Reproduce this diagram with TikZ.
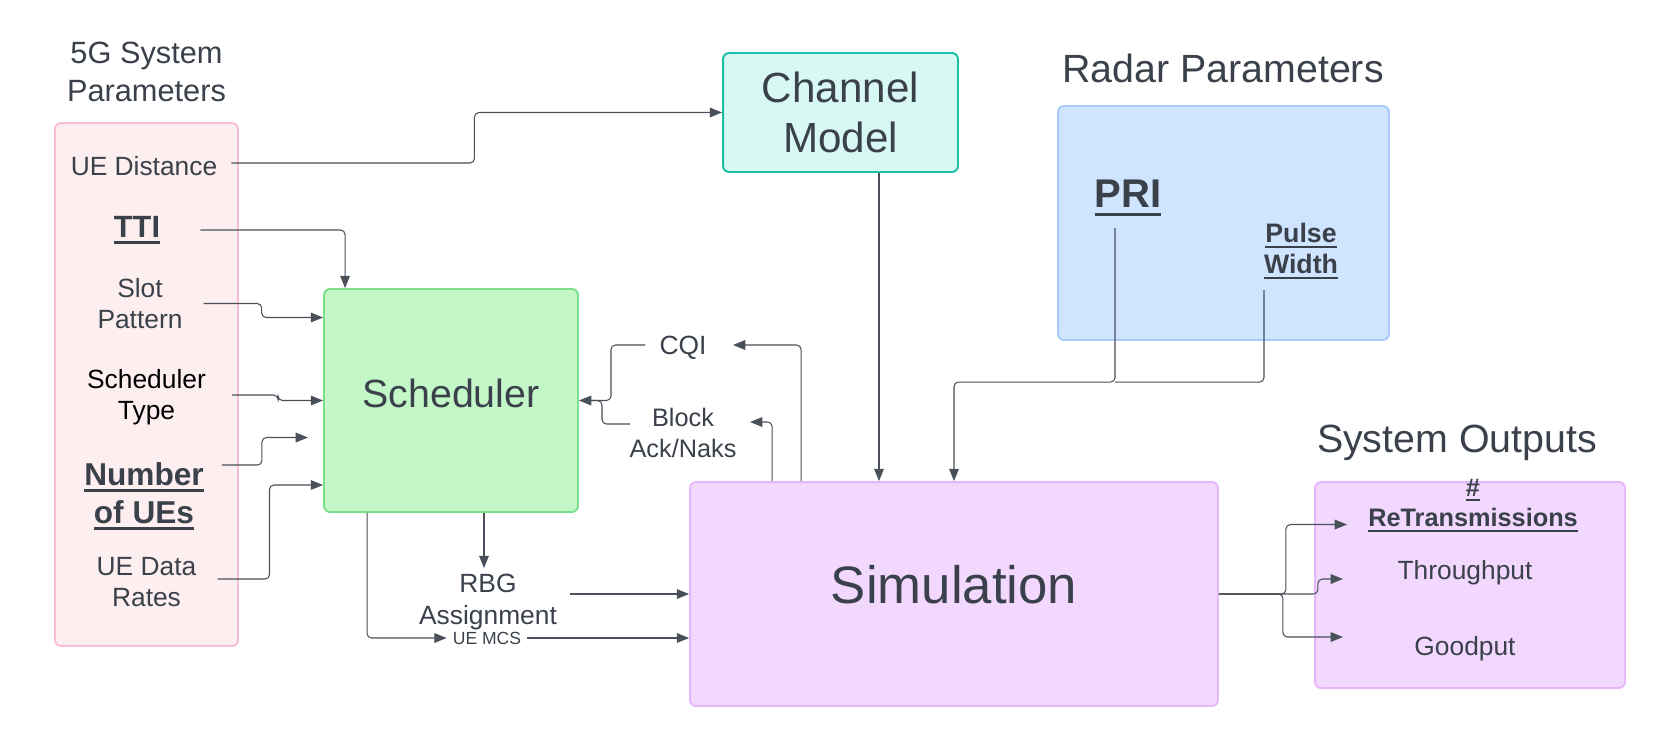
\documentclass[tikz,border=0pt]{standalone}
\usepackage{fontspec}
\setmainfont{Liberation Sans}
\usetikzlibrary{arrows.meta,calc}
\definecolor{ink}{HTML}{3A414A}
\definecolor{wire}{HTML}{4A5059}
\definecolor{pinkfill}{HTML}{FDEEF0}
\definecolor{pinkline}{HTML}{F9BCD6}
\definecolor{greenfill}{HTML}{C3F7C8}
\definecolor{greenline}{HTML}{7ADF8A}
\definecolor{tealfill}{HTML}{D7F8F3}
\definecolor{tealline}{HTML}{19BFA6}
\definecolor{bluefill}{HTML}{CFE4FF}
\definecolor{blueline}{HTML}{A9CBF8}
\definecolor{violetfill}{HTML}{F2D8FE}
\definecolor{violetline}{HTML}{E7B7F9}
\newcommand{\ulin}[1]{\leavevmode\vtop{\hbox{#1}\kern.12em\hrule height.075em}}

\begin{document}
\begin{tikzpicture}[x=0.02cm,y=-0.02cm]
      \tikzset{box/.style={draw, rounded corners=0.12cm, line width=1.1pt, text=ink, align=center},
               itm/.style={text=ink, align=center, font=\fontsize{15}{18}\selectfont},
               itmb/.style={text=ink, align=center, font=\fontsize{17.5}{21}\selectfont\bfseries},
               heading/.style={text=ink, align=center, font=\fontsize{22.4}{26}\selectfont},
               flow/.style={draw=wire, line width=0.6pt, rounded corners=0.09cm, -{Triangle[length=7pt,width=5.5pt]}},
               wireonly/.style={draw=wire, line width=0.6pt, rounded corners=0.09cm}}
      \useasboundingbox (0,0) rectangle (1665,748);
%% Boxes
      \node[box, fill=pinkfill, draw=pinkline, minimum width=3.66cm, minimum height=10.46cm] (params) at (146.5,384.5) {};
      \node[box, fill=greenfill, draw=greenline, minimum width=5.08cm, minimum height=4.46cm, text depth=8.5pt,
            font=\fontsize{22.4}{26}\selectfont] (sched) at (451,400.5) {Scheduler};
      \node[box, fill=tealfill, draw=tealline, minimum width=4.7cm, minimum height=2.38cm,
            font=\fontsize{24}{28}\selectfont] (chan) at (840.5,112.5) {Channel\\Model};
      \node[box, fill=bluefill, draw=blueline, minimum width=6.62cm, minimum height=4.68cm] (radar) at (1223.5,223) {};
      \node[box, fill=violetfill, draw=violetline, minimum width=10.56cm, minimum height=4.48cm, text depth=11pt,
            font=\fontsize{30}{34}\selectfont] (sim) at (954,594) {Simulation};
      \node[box, fill=violetfill, draw=violetline, minimum width=6.2cm, minimum height=4.12cm] (outs) at (1470,585) {};
%% Headings
      \node[text=ink, align=center, font=\fontsize{17.5}{21.5}\selectfont] (title5g) at (146.5,72) {5G System\\Parameters};
      \node[heading] (radartitle) at (1223,68) {Radar Parameters};
      \node[heading] (outstitle) at (1457,443) {System Outputs};
%% Items
	%5G parameters
      \node[itm] (ued) at (144,166) {UE Distance};
      \node[itmb] (tti) at (137,230) {\ulin{TTI}};
      \node[itm] (slot) at (140,303.5) {Slot\\Pattern};
      \node[itm, text=black] (stype) at (146.5,397) {Scheduler\\Type};
      \node[itmb, font=\fontsize{18}{21.5}\selectfont\bfseries] (nues) at (144,496) {\ulin{Number}\\\ulin{of UEs}};
      \node[itm] (rates) at (146.5,582) {UE Data\\Rates};
	%radar
      \node[itmb, font=\fontsize{22.8}{26}\selectfont\bfseries] (pri) at (1128,198) {\ulin{PRI}};
      \node[itmb, font=\fontsize{15.2}{18}\selectfont\bfseries] (pw) at (1301,251) {\ulin{Pulse}\\\ulin{Width}};
	%feedback and assignment
      \node[itm] (cqi) at (683,348) {CQI};
      \node[itm, font=\fontsize{14.4}{17.5}\selectfont] (ack) at (683,433) {Block\\Ack/Naks};
      \node[itm] (rbg) at (488,602) {RBG\\Assignment};
      \node[itm, font=\fontsize{10}{12}\selectfont] (mcs) at (487,638) {UE MCS};
	%outputs
      \node[itmb, font=\fontsize{14.4}{17.4}\selectfont\bfseries] (retx) at (1473,505.5) {\ulin{\#}\\\ulin{ReTransmissions}};
      \node[itm] (thr) at (1465,573) {Throughput};
      \node[itm] (good) at (1465,649) {Goodput};
      \coordinate (nuesend) at (308,437.5);
%% Connectors
	%inputs
      \draw[flow] ($(ued.east)+(8,-3)$) -- ++(243,0) |- (chan.west);
      \draw[flow] ($(tti.east)+(34,0)$) -| ($(sched.north west)+(22,0)$);
      \draw[flow] ($(slot.east)+(15,0)$) -- ++(58,0) |- ($(sched.west)+(0,-83)$);
      \draw[flow] ($(stype.east)+(20,-2)$) -- ++(46,0) |- (sched.west);
      \draw[flow] ($(nues.east)+(12,-31)$) -- ++(40,0) |- (nuesend);
      \draw[flow] ($(rates.east)+(15,-3)$) -- ++(52,0) |- ($(sched.west)+(0,84.5)$);
	%channel and radar
      \draw[flow] ($(chan.south)+(38.5,0)$) coordinate (cm) -- (cm |- sim.north);
      \draw[flow] ($(pri.center)+(-13,30)$) |- ($(sim.north)+(0,-99)$) -- (sim.north);
      \draw[wireonly] ($(pw.center)+(-37,39)$) |- ($(sim.north)+(161,-99)$);
	%feedback
      \draw[flow] ($(sim.north west)+(112,0)$) |- ($(cqi.center)+(50,-3)$);
      \draw[flow] ($(sim.north west)+(83,0)$) |- ($(ack.center)+(67,-11)$);
      \draw[flow] ($(cqi.center)+(-38,-3)$) -- ++(-34,0) |- (sched.east);
      \draw[wireonly] ($(ack.center)+(-53,-9)$) -- ++(-28,0) |- ($(sched.east)+(12,0)$);
	%assignment
      \draw[flow] ($(sched.south)+(33,0)$) coordinate (sb) -- (sb |- rbg.north);
      \draw[flow] ($(rbg.east)+(7,-8)$) coordinate (rb) -- (rb -| sim.west);
      \draw[flow] ($(sched.south west)+(44,0)$) |- (mcs.west);
      \draw[flow] (mcs.east) -- (mcs.east -| sim.west);
	%outputs
      \draw[flow] (sim.east) -- ++(67,0) |- ($(retx.center)+(-126,19)$);
      \draw[flow] (sim.east) -- ++(99,0) |- ($(thr.center)+(-122,6)$);
      \draw[flow] (sim.east) -- ++(64,0) |- ($(good.center)+(-122,-12)$);
\end{tikzpicture}
\end{document}
